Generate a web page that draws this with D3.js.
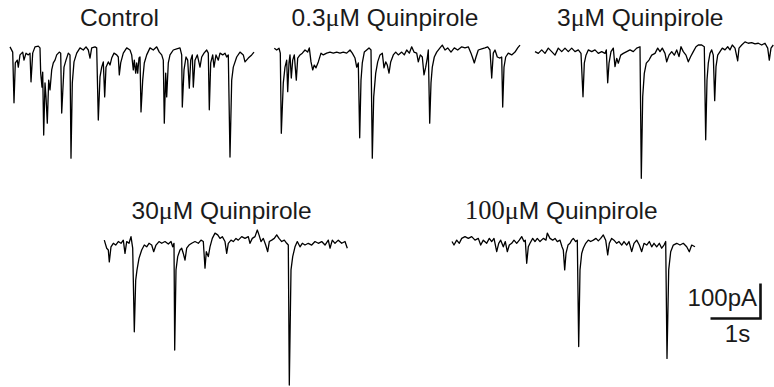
<!DOCTYPE html>
<html>
<head>
<meta charset="utf-8">
<script src="https://cdn.jsdelivr.net/npm/d3@7"></script>
<style>
  body { margin: 0; background: #fff; }
  svg text { fill: #1a1a1a; }
</style>
</head>
<body>
<div id="traces"></div>
<script>
const control = [
  [0,9],[54,-6],[80,-151],[106,-37],[146,-29],[166,-49],[200,-14],[254,-6],[280,-29],[320,-9],
  [366,-14],[400,-9],[420,-91],[454,-9],[500,9],[566,11],[600,6],[614,-66],[640,-106],[654,-63],
  [674,-243],[700,-94],[720,-134],[746,-209],[774,-86],[800,-114],[834,-57],[866,-37],[900,-29],[934,-14],
  [986,-6],[1014,-9],[1034,-180],[1054,-123],[1080,-49],[1120,-29],[1166,-9],[1200,-14],[1220,-309],[1246,-94],
  [1280,-34],[1334,-9],[1400,6],[1466,0],[1520,9],[1566,0],[1600,-23],[1634,6],[1700,9],[1734,6],
  [1766,-200],[1800,-77],[1834,-49],[1866,-34],[1894,-134],[1920,-49],[1966,-34],[2000,-43],[2034,-23],[2080,-9],
  [2134,-14],[2166,-20],[2186,-71],[2214,-37],[2266,-9],[2334,6],[2400,0],[2434,-14],[2466,-57],[2486,-29],
  [2514,-66],[2534,-37],[2554,-66],[2580,-23],[2600,-20],[2620,-177],[2654,-86],[2686,-37],[2734,-14],[2800,6],
  [2866,0],[2934,9],[2986,-6],[3034,-14],[3066,-29],[3086,-209],[3114,-66],[3134,-134],[3166,-37],[3200,-14],
  [3266,0],[3334,3],[3400,6],[3434,-14],[3446,-163],[3480,-57],[3520,-20],[3554,-29],[3586,-109],[3614,-29],
  [3646,-14],[3666,-106],[3700,-29],[3746,-14],[3800,-49],[3834,-20],[3880,-9],[3934,0],[3966,-9],[3986,-171],
  [4014,-37],[4054,-14],[4080,-49],[4120,-14],[4166,-29],[4200,-9],[4254,-14],[4300,-9],[4334,-20],[4366,-14],
  [4400,-306],[4434,-86],[4466,-49],[4534,-20],[4600,-6],[4666,-14],[4700,-34],[4766,-23],[4834,-14],[4880,-6]
];

const quin03 = [
  [6,5],[54,0],[100,5],[126,-9],[146,-238],[186,-94],[220,-49],[254,-29],[274,-119],[300,-37],
  [320,-14],[346,-80],[374,-29],[406,-14],[446,-86],[474,-23],[520,-14],[566,-9],[620,0],[674,-6],
  [706,6],[740,-34],[774,-57],[806,-43],[840,-51],[886,-34],[940,-9],[986,-14],[1054,-9],[1120,-6],
  [1186,-9],[1254,-6],[1320,-9],[1386,-6],[1454,-9],[1520,0],[1566,-9],[1620,-23],[1654,-49],[1686,-37],
  [1714,-251],[1740,-86],[1766,-37],[1806,-6],[1854,0],[1900,6],[1940,0],[1966,-309],[1994,-134],[2034,-66],
  [2074,-34],[2120,-14],[2166,-9],[2200,-51],[2234,-34],[2266,-43],[2300,-66],[2334,-34],[2386,-14],[2434,-6],
  [2486,-14],[2554,-6],[2606,-14],[2654,0],[2706,-9],[2754,9],[2800,-6],[2854,-9],[2886,-34],[2926,-14],
  [2966,-20],[3000,-71],[3034,-49],[3066,-23],[3086,0],[3114,-209],[3140,-94],[3166,-49],[3206,-20],[3254,-6],
  [3320,6],[3366,14],[3420,0],[3474,6],[3540,-6],[3606,6],[3674,0],[3754,9],[3820,6],[3886,9],
  [3940,-9],[3974,-23],[4006,-37],[4040,-20],[4086,0],[4154,3],[4220,6],[4274,9],[4320,0],[4354,-80],
  [4386,-9],[4420,0],[4466,-20],[4520,-23],[4554,-20],[4574,-163],[4600,-49],[4634,-20],[4686,-9],[4754,-14],
  [4820,-6],[4874,6],[4920,14]
];

const quin3 = [
  [0,1],[66,-4],[134,6],[200,-4],[266,11],[334,1],[400,-9],[466,11],[534,1],[600,11],
  [666,1],[734,11],[800,1],[866,6],[920,-4],[960,-128],[986,-32],[1020,-9],[1066,6],[1134,1],
  [1200,6],[1266,-4],[1334,1],[1400,-4],[1426,6],[1454,-88],[1480,-32],[1520,1],[1566,11],[1600,-42],
  [1634,-18],[1666,-32],[1714,-9],[1766,-4],[1834,1],[1900,6],[1966,1],[2034,11],[2100,15],[2126,-361],
  [2154,-128],[2186,-61],[2226,-32],[2280,-23],[2334,-9],[2400,-4],[2454,11],[2500,1],[2546,11],[2600,-4],
  [2634,-28],[2680,-9],[2734,1],[2786,-9],[2834,6],[2880,-13],[2920,15],[2966,1],[3020,-9],[3066,-28],
  [3114,-13],[3166,1],[3220,15],[3266,20],[3334,20],[3386,15],[3414,-251],[3440,-80],[3466,-32],[3500,-4],
  [3534,6],[3566,-9],[3594,-139],[3620,-42],[3654,-9],[3700,1],[3746,11],[3800,6],[3854,15],[3900,6],
  [3946,20],[4000,11],[4054,-25],[4080,11],[4134,20],[4200,29],[4266,25],[4334,27],[4400,23],[4466,25],
  [4534,20],[4600,25],[4654,11],[4686,-23],[4720,11],[4766,20]
];

const quin30 = [
  [6,11],[54,-12],[86,-17],[106,-51],[140,-8],[186,2],[234,-3],[286,7],[340,2],[386,11],
  [420,-27],[454,7],[500,2],[540,21],[574,-12],[606,-251],[634,-103],[660,-74],[700,-41],[754,-17],
  [806,-3],[854,-8],[900,2],[954,-3],[994,-22],[1040,-3],[1100,7],[1154,2],[1220,7],[1286,0],
  [1340,7],[1374,-8],[1400,2],[1414,-303],[1440,-74],[1474,-36],[1520,-17],[1554,-12],[1586,-27],[1620,-46],
  [1654,-12],[1700,-3],[1754,2],[1820,7],[1886,2],[1940,11],[1986,7],[2020,-69],[2046,-22],[2086,-36],
  [2120,-8],[2166,16],[2220,31],[2274,26],[2320,16],[2366,21],[2420,7],[2454,-27],[2486,2],[2540,11],
  [2586,7],[2640,16],[2686,11],[2754,21],[2820,16],[2886,21],[2920,2],[2966,16],[3020,21],[3066,40],
  [3100,26],[3140,7],[3186,16],[3234,-3],[3274,-22],[3306,7],[3354,11],[3406,16],[3454,26],[3500,16],
  [3554,7],[3606,11],[3654,2],[3686,-3],[3706,-403],[3740,-74],[3774,-36],[3820,-8],[3866,7],[3920,-8],
  [3966,2],[4020,-3],[4086,2],[4154,-3],[4220,7],[4286,2],[4354,7],[4420,-3],[4486,11],[4520,-12],
  [4566,11],[4620,2],[4686,11],[4754,2],[4820,7],[4866,-12]
];

const quin100 = [
  [0,7],[40,-3],[94,11],[146,2],[194,16],[260,21],[326,16],[394,21],[460,11],[526,16],
  [574,-3],[626,11],[694,2],[746,16],[794,7],[840,16],[894,-22],[934,2],[974,11],[1026,-8],
  [1066,7],[1106,-22],[1146,-3],[1194,2],[1240,11],[1294,2],[1346,11],[1394,21],[1440,7],[1466,11],
  [1494,-55],[1526,-8],[1560,2],[1614,16],[1660,7],[1706,16],[1760,7],[1826,16],[1880,11],[1906,31],
  [1960,16],[2014,11],[2060,16],[2106,7],[2160,11],[2200,-8],[2226,-17],[2254,-74],[2280,-27],[2320,-3],
  [2360,2],[2394,11],[2426,16],[2474,7],[2506,11],[2534,-293],[2560,-74],[2594,-27],[2626,-12],[2674,2],
  [2726,11],[2774,7],[2826,11],[2880,16],[2926,9],[2974,16],[3026,26],[3074,11],[3114,-31],[3146,2],
  [3194,16],[3240,11],[3294,2],[3340,7],[3394,-3],[3440,7],[3494,-3],[3540,7],[3594,-22],[3640,2],
  [3694,11],[3746,-3],[3794,-22],[3840,2],[3894,-3],[3946,7],[3994,-8],[4040,2],[4094,-8],[4146,2],
  [4194,-12],[4240,-3],[4274,7],[4300,-327],[4334,-74],[4374,-22],[4426,-3],[4494,2],[4560,-3],[4626,2],
  [4694,-8],[4746,-22],[4794,-3],[4860,-8]
];

// panel titles: concentration prefix, then micro sign and the drug name are added
const titles = ['Control', '0.3', '3', '30', '100'];
const scaleBar = { time: 1000, current: 100, timeLabel: '1s', currentLabel: '100pA' };

const width = 774, height = 387;
const pxPerMs = 50 / 1000;     // 1 s -> 50 px
const pxPerPa = 35 / 100;      // 100 pA -> 35 px

const SANS = '"Liberation Sans", Arial, sans-serif';
const SERIF = '"Liberation Serif", "DejaVu Serif", "Times New Roman", serif';

const panels = [
  { data: control, x0: 10,  y0: 50,  title: titles[0], tx: 80,    ty: 26 },
  { data: quin03,  x0: 274, y0: 50,  title: titles[1], tx: 291.5, ty: 26 },
  { data: quin3,   x0: 535, y0: 52,  title: titles[2], tx: 557,   ty: 26 },
  { data: quin30,  x0: 104, y0: 244, title: titles[3], tx: 131.5, ty: 218.5 },
  { data: quin100, x0: 452, y0: 244, title: titles[4], tx: 465,   ty: 219, serifNum: true }
];

const svg = d3.select('#traces')
  .append('svg')
  .attr('width', width)
  .attr('height', height);

// writes pieces of text one after another, each its own <text> so fonts can differ
function runText(x, y, pieces) {
  let cx = x;
  pieces.forEach(pc => {
    const t = svg.append('text')
      .attr('x', cx)
      .attr('y', y)
      .attr('font-family', pc.font)
      .style('font-family', pc.font)
      .style('font-size', pc.size + 'px')
      .text(pc.text);
    cx += t.node().getComputedTextLength();
  });
}

panels.forEach(p => {
  const tMax = d3.max(p.data, d => d[0]);
  const x = d3.scaleLinear().domain([0, tMax]).range([p.x0, p.x0 + tMax * pxPerMs]);
  const y = d3.scaleLinear().domain([0, -100]).range([p.y0, p.y0 + 100 * pxPerPa]);

  const line = d3.line()
    .x(d => x(d[0]))
    .y(d => y(d[1]));

  svg.append('path')
    .datum(p.data)
    .attr('d', line)
    .attr('fill', 'none')
    .attr('stroke', '#000')
    .attr('stroke-width', 1.3)
    .attr('stroke-linejoin', 'round');

  if (p.title === 'Control') {
    runText(p.tx, p.ty, [{ text: p.title, font: SANS, size: 24.5 }]);
  } else {
    runText(p.tx, p.ty, [
      { text: p.title, font: p.serifNum ? SERIF : SANS, size: p.serifNum ? 26.5 : 24.5 },
      { text: '\u03bc', font: SERIF, size: 26 },
      { text: 'M Quinpirole', font: SANS, size: 24.5 }
    ]);
  }
});

// scale bar, drawn with the same px/unit as the traces
const bx = 760.5, by = 318.5;
const sx = d3.scaleLinear().domain([0, scaleBar.time]).range([bx - scaleBar.time * pxPerMs, bx]);
const sy = d3.scaleLinear().domain([0, scaleBar.current]).range([by, by - scaleBar.current * pxPerPa]);

svg.append('path')
  .attr('d', `M${sx(0)},${sy(0)}H${sx(scaleBar.time)}V${sy(scaleBar.current)}`)
  .attr('fill', 'none')
  .attr('stroke', '#111')
  .attr('stroke-width', 2.6);

svg.append('text')
  .attr('x', 757)
  .attr('y', 306)
  .attr('text-anchor', 'end')
  .style('font-family', SANS)
  .style('font-size', '24px')
  .text(scaleBar.currentLabel);

svg.append('text')
  .attr('x', 737.5)
  .attr('y', 341.5)
  .attr('text-anchor', 'middle')
  .style('font-family', SANS)
  .style('font-size', '24px')
  .text(scaleBar.timeLabel);
</script>
</body>
</html>
